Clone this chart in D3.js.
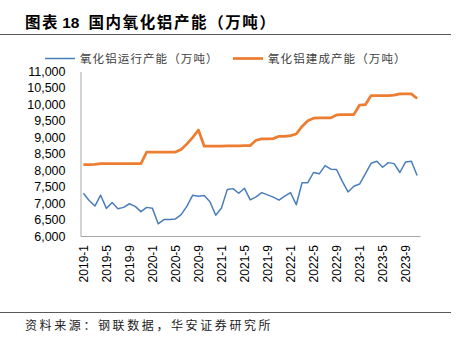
<!DOCTYPE html>
<html>
<head>
<meta charset="utf-8">
<script src="https://cdn.jsdelivr.net/npm/d3@7"></script>
<style>
    body { margin: 0; background: #fff; }
    svg { display: block; font-family: "Liberation Sans", Arial, sans-serif; }
    .cjk { font-family: "Noto Sans CJK SC", sans-serif; }
</style>
</head>
<body>
<svg id="chart" width="461" height="344"></svg>
<script>
/*
 * Data: monthly alumina capacity, 2019-1 .. 2023-11
 * */
var months = [];
for (var y = 2019; y <= 2023; y++) {
    for (var m = 1; m <= 12; m++) {
        if (y === 2023 && m > 11) break;
        months.push(y + '-' + m);
    }
}

var runningCapacity = [
    7300, 7080, 6910, 7240, 6840, 7020, 6830, 6870, 6980, 6900, 6740, 6870,
    6840, 6370, 6500, 6500, 6520, 6650, 6910, 7240, 7210, 7230, 7040, 6630,
    6850, 7410, 7440, 7300, 7450, 7100, 7190, 7320, 7250, 7180, 7090, 7210,
    7320, 6950, 7620, 7620, 7930, 7890, 8140, 8030, 8020, 7660, 7340, 7510,
    7580, 7890, 8210, 8270, 8090, 8230, 8200, 7930, 8250, 8270, 7840
];

var builtCapacity = [
    8170, 8170, 8180, 8200, 8200, 8200, 8200, 8200, 8200, 8200, 8200, 8550,
    8550, 8550, 8550, 8550, 8550, 8630, 8800, 9000, 9220, 8730, 8730, 8730,
    8730, 8740, 8740, 8740, 8750, 8750, 8910, 8950, 8950, 8960, 9030, 9030,
    9050, 9100, 9330, 9500, 9580, 9590, 9590, 9590, 9680, 9690, 9690, 9690,
    9980, 9990, 10270, 10270, 10270, 10270, 10280, 10320, 10320, 10320, 10180
];

var seriesNames = ['氧化铝运行产能（万吨）', '氧化铝建成产能（万吨）'];
var yTicks = [6000, 6500, 7000, 7500, 8000, 8500, 9000, 9500, 10000, 10500, 11000];

var blue = '#4a7ebb',
    orange = '#ed7d31',
    axisGrey = '#a6a6a6';

/*
 * Chart
 * */
function drawChart() {
    var svg = d3.select('#chart');
    var plot = { left: 80.5, right: 420, top: 71.5, bottom: 236 };

    // title + rules
    var title = svg.append('text')
        .attr('class', 'cjk')
        .attr('x', 25)
        .attr('y', 28)
        .attr('font-size', 15.5)
        .attr('font-weight', 'bold')
        .attr('fill', '#000');
    title.append('tspan').attr('letter-spacing', 1.6).text('图表');
    title.append('tspan').attr('dx', 3).attr('font-family', 'Liberation Sans, Arial, sans-serif').text('18');
    title.append('tspan').attr('dx', 9).attr('letter-spacing', 1.6).text('国内氧化铝产能（万吨）');

    svg.append('line')
        .attr('x1', 0).attr('x2', 451)
        .attr('y1', 34.5).attr('y2', 34.5)
        .attr('stroke', '#595959').attr('stroke-width', 1);

    svg.append('line')
        .attr('x1', 0).attr('x2', 451)
        .attr('y1', 312.5).attr('y2', 312.5)
        .attr('stroke', '#595959').attr('stroke-width', 1);

    svg.append('text')
        .attr('class', 'cjk')
        .attr('x', 25)
        .attr('y', 330)
        .attr('font-size', 12)
        .attr('letter-spacing', 2.6)
        .attr('fill', '#222')
        .text('资料来源：钢联数据，华安证券研究所');

    // scales
    var x = d3.scaleBand()
        .domain(months)
        .range([plot.left, plot.right]);

    var yScale = d3.scaleLinear()
        .domain([6000, 11000])
        .range([plot.bottom, plot.top]);

    // y axis
    var yAxis = svg.append('g')
        .attr('transform', 'translate(' + plot.left + ',0)')
        .call(d3.axisLeft(yScale).tickValues(yTicks).tickSize(0).tickPadding(15)
            .tickFormat(d3.format(',')));
    yAxis.select('.domain').attr('stroke', axisGrey);
    yAxis.selectAll('text')
        .attr('font-size', 12.5)
        .attr('font-family', 'Liberation Sans, Arial, sans-serif')
        .attr('fill', '#000');

    // x axis
    var xAxis = svg.append('g')
        .attr('transform', 'translate(0,' + plot.bottom + ')')
        .call(d3.axisBottom(x)
            .tickValues(months.filter(function (d, i) { return i % 4 === 0; }))
            .tickSize(0));
    xAxis.select('.domain').attr('stroke', axisGrey);
    xAxis.selectAll('text')
        .attr('font-size', 12)
        .attr('font-family', 'Liberation Sans, Arial, sans-serif')
        .attr('fill', '#000')
        .attr('transform', 'rotate(-90)')
        .attr('text-anchor', 'end')
        .attr('x', -9)
        .attr('y', 0)
        .attr('dy', '0.35em');

    // lines
    var line = d3.line()
        .x(function (d, i) { return x(months[i]) + x.bandwidth() / 2; })
        .y(function (d) { return yScale(d); });

    svg.append('path')
        .datum(builtCapacity)
        .attr('fill', 'none')
        .attr('stroke', orange)
        .attr('stroke-width', 2.75)
        .attr('stroke-linejoin', 'round')
        .attr('d', line);

    svg.append('path')
        .datum(runningCapacity)
        .attr('fill', 'none')
        .attr('stroke', blue)
        .attr('stroke-width', 1.5)
        .attr('stroke-linejoin', 'round')
        .attr('d', line);

    // legend
    var legendItems = [
        { name: seriesNames[0], colour: blue, width: 1.5, x: 45 },
        { name: seriesNames[1], colour: orange, width: 2.75, x: 233 }
    ];
    var legend = svg.append('g');
    legendItems.forEach(function (item) {
        legend.append('line')
            .attr('x1', item.x).attr('x2', item.x + 30)
            .attr('y1', 58.5).attr('y2', 58.5)
            .attr('stroke', item.colour)
            .attr('stroke-width', item.width);
        legend.append('text')
            .attr('class', 'cjk')
            .attr('x', item.x + 35)
            .attr('y', 62.5)
            .attr('font-size', 11.5)
            .attr('letter-spacing', 1.1)
            .attr('fill', '#404040')
            .text(item.name);
    });
}

drawChart();
</script>
</body>
</html>
